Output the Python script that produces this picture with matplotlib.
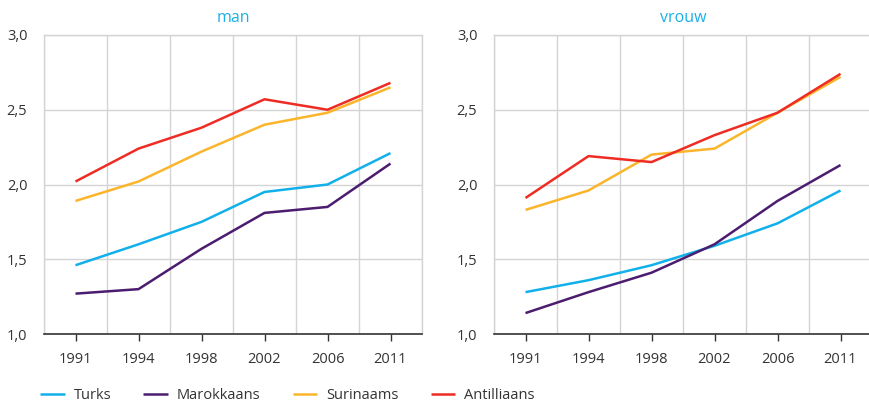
import matplotlib
matplotlib.use("Agg")
import matplotlib.pyplot as plt
import numpy as np
from matplotlib.ticker import FixedLocator, FuncFormatter

years = ["1991", "1994", "1998", "2002", "2006", "2011"]
series_names = ["Turks", "Marokkaans", "Surinaams", "Antilliaans"]
colors = ["#12b0ea", "#4b1c6f", "#fbb52b", "#ee2c24"]

man_turks = [1.46, 1.60, 1.75, 1.95, 2.00, 2.21]
man_marokkaans = [1.27, 1.30, 1.57, 1.81, 1.85, 2.14]
man_surinaams = [1.89, 2.02, 2.22, 2.40, 2.48, 2.65]
man_antilliaans = [2.02, 2.24, 2.38, 2.57, 2.50, 2.68]

vrouw_turks = [1.28, 1.36, 1.46, 1.59, 1.74, 1.96]
vrouw_marokkaans = [1.14, 1.28, 1.41, 1.60, 1.89, 2.13]
vrouw_surinaams = [1.83, 1.96, 2.20, 2.24, 2.48, 2.72]
vrouw_antilliaans = [1.91, 2.19, 2.15, 2.33, 2.48, 2.74]

panels = [
    ("man", [man_turks, man_marokkaans, man_surinaams, man_antilliaans]),
    ("vrouw", [vrouw_turks, vrouw_marokkaans, vrouw_surinaams, vrouw_antilliaans]),
]

plt.rcParams['font.family'] = ['Open Sans', 'DejaVu Sans']
text_color = "#333333"
grid_color = "#d4d4d4"

fig = plt.figure(figsize=(8.69, 4.05), dpi=100)
positions = [
    [44 / 869, 71 / 405, 378 / 869, 299 / 405],
    [494 / 869, 71 / 405, 378 / 869, 299 / 405],
]

lines = []
for pos, (title, data) in zip(positions, panels):
    ax = fig.add_axes(pos)
    x = np.arange(len(years))
    for vals, name, c in zip(data, series_names, colors):
        ln, = ax.plot(x, vals, color=c, lw=1.8, label=name, solid_capstyle='butt', zorder=3)
        if title == "man":
            lines.append(ln)
    ax.set_xlim(-0.5, len(years) - 0.5)
    ax.set_ylim(1.0, 3.0)
    ax.set_xticks(x)
    ax.set_xticklabels(years)
    ax.xaxis.set_minor_locator(FixedLocator(np.arange(-0.5, len(years), 1.0)))
    ax.set_yticks([1.0, 1.5, 2.0, 2.5, 3.0])
    ax.yaxis.set_major_formatter(FuncFormatter(lambda v, p: f"{v:.1f}".replace(".", ",")))
    ax.grid(False)
    ax.grid(True, which='minor', axis='x', color=grid_color, lw=1.0, zorder=0)
    ax.grid(True, which='major', axis='y', color=grid_color, lw=1.0, zorder=0)
    ax.tick_params(axis='x', which='major', direction='out', length=5, width=1,
                   color=text_color, labelsize=10.5, labelcolor=text_color, pad=8)
    ax.tick_params(axis='x', which='minor', length=0)
    ax.tick_params(axis='y', length=0, labelsize=10.5, labelcolor=text_color, pad=12)
    for s in ['top', 'left', 'right']:
        ax.spines[s].set_color(grid_color)
        ax.spines[s].set_linewidth(1.0)
    ax.spines['bottom'].set_color(text_color)
    ax.spines['bottom'].set_linewidth(1.2)
    ax.spines['bottom'].set_zorder(4)
    ax.set_title(title, color="#1ab0e8", fontsize=11.5, pad=9)

fig.legend(handles=lines, labels=series_names, loc='lower left',
           bbox_to_anchor=(40 / 869, 2 / 405), ncol=4, frameon=False,
           borderpad=0, borderaxespad=0,
           fontsize=10.5, handlelength=1.7, handletextpad=0.6, columnspacing=2.2,
           labelcolor=text_color)

fig.savefig("out.png", dpi=100)
